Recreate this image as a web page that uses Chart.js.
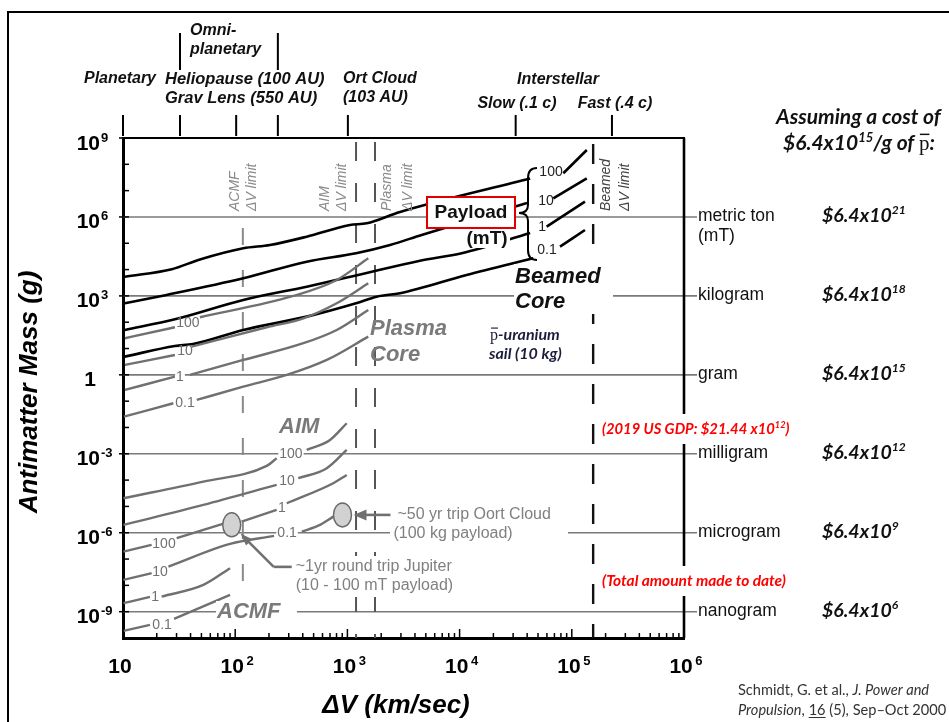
<!DOCTYPE html>
<html>
<head>
<meta charset="utf-8">
<script src="https://cdn.jsdelivr.net/npm/chart.js@4.4.0/dist/chart.umd.min.js"></script>
<style>
  html, body { margin: 0; padding: 0; background: #fff; }
</style>
</head>
<body>
<canvas id="myChart" width="949" height="722"></canvas>
<script>
// ---- data: x = delta-V (km/s), y = antimatter mass (g) ----
const xTickVals = [10, 1e2, 1e3, 1e4, 1e5, 1e6];
const xTickExps = ['', '2', '3', '4', '5', '6'];
const yTickVals = [1e9, 1e6, 1e3, 1, 1e-3, 1e-6, 1e-9];
const yTickExps = ['9', '6', '3', '', '-3', '-6', '-9'];
const massUnits = ['metric ton', 'kilogram', 'gram', 'milligram', 'microgram', 'nanogram'];
const costExps = ['21', '18', '15', '12', '9', '6'];
const payloads = ['100', '10', '1', '0.1'];

// mission classes along the top (km/s)
const missionTicks = [10, 32.2, 102, 240, 1010, 31600, 228000];
// propulsion delta-V limits: ACMF, AIM, plasma, beamed
const limitVals = [117, 1194, 1762, 155000];

// beamed core (black); "b" = part after the payload tag
const beamed100 = [[10.4,5380],[27.2,1.03e4],[48.5,2.42e4],[118,6.46e4],[204,8.61e4],[434,1.78e5],[1054,4.95e5],[1486,5.74e5],[2944,1.55e6],[42500,2.89e7]];
const beamed100b = [[84000,4.56e7],[136000,3.5e8]];
const beamed10 = [[10.4,525],[24.5,1090],[118,4680],[434,2.0e4],[1194,4.17e4],[2399,8.61e4],[4590,2.07e5],[39900,3.4e6]];
const beamed10b = [[68400,5.12e6],[136000,2.94e7]];
const beamed1 = [[10.4,50.8],[29,129],[118,701],[434,2240],[1194,5970],[4436,2.18e4],[10440,4.17e4],[42500,2.46e5]];
const beamed1b = [[59700,4.27e5],[131000,3.8e6]];
const beamed01 = [[10.4,4.92],[29,12.5],[42.1,14.9],[118,50.8],[434,163],[1194,525],[1824,936],[2944,1260],[11560,6240],[45400,2.69e4]];
const beamed01b = [[78500,7.43e4],[131000,3.2e5]];
const beamedTags = [[65300,5.57e7],[58900,4.42e6],[54300,4.54e5],[60100,6.07e4]];

// plasma core (gray)
const plasma100 = [[10.4,24.6],[29,64.4]];
const plasma100b = [[48.5,154],[330,995],[803,4030],[1535,2.69e4]];
const plasma10 = [[10.4,2.38],[29,5.7]];
const plasma10b = [[40.9,11.8],[191,64.4],[405,141],[803,525],[1535,3020]];
const plasma1 = [[10.4,0.267],[29,0.855]];
const plasma1b = [[39.5,0.99],[118,3.68],[405,15.9],[803,50.8],[1535,292]];
const plasma01 = [[10.2,0.0258],[28.1,0.0834]];
const plasma01b = [[45.4,0.111],[118,0.356],[288,0.99],[655,3.68],[1535,28.3]];
const plasmaTags = [[37.9,105],[35.7,8.83],[32.2,0.855],[35.7,0.0935]];

// AIM (gray)
const aim100 = [[10.1,2.05e-5],[52,8.77e-5],[191,3.46e-4],[234,6.79e-4]];
const aim100b = [[434,1.4e-3],[700,3.37e-3],[986,0.0145]];
const aim10 = [[10.1,1.99e-6],[52,1.14e-5],[234,6.56e-5]];
const aim10b = [[365,1.18e-4],[655,2.83e-4],[986,1.4e-3]];
const aim1 = [[114,2.65e-6],[234,7.38e-6]];
const aim1b = [[288,1.32e-5],[748,7.62e-5],[986,1.57e-4]];
const aim01b = [[392,1.1e-6],[570,1.99e-6],[748,4.1e-6]];
const aimTags = [[314,1.05e-3],[290,1.02e-4],[261,9.6e-6],[290,1.01e-6]];

// ACMF (gray)
const acmf100 = [[10.1,1.92e-7],[18,3.45e-7]];
const acmf100b = [[30.1,6.21e-7],[90,2.65e-6]];
const acmf10 = [[10.1,1.61e-8],[18,2.9e-8]];
const acmf10b = [[25.4,5.18e-8],[90,3.77e-7],[222,7.58e-7]];
const acmf1 = [[10.1,2.1e-9],[17.4,3.66e-9]];
const acmf1b = [[22.1,3.75e-9],[52,1.04e-8],[90,4.5e-8]];
const acmf01 = [[10.1,1.87e-10],[17.4,3.15e-10]];
const acmf01b = [[28.5,5.33e-10],[90,4.35e-9]];
const acmfTags = [[23.2,4.11e-7],[21.4,3.34e-8],[19.3,3.99e-9],[22.3,3.44e-10]];

// the two example missions (gray ellipses)
const tripPoints = [[93.1,1.99e-6],[904,4.76e-6]];

// ---- setup ----
const SANS = '"Liberation Sans", Arial, sans-serif';
const CAL = 'Lato, "Open Sans", sans-serif';
const SERIF = '"Liberation Serif", "DejaVu Serif", serif';
const BLACK = '#000';
const GRAY = '#707070';

const datasets = [];
function addCurve(points, color, width) {
  datasets.push({
    data: points.map(p => ({ x: p[0], y: p[1] })),
    borderColor: color,
    borderWidth: width,
    showLine: true,
    pointRadius: 0,
    pointHoverRadius: 0,
    cubicInterpolationMode: 'monotone',
    fill: false
  });
}
[plasma100, plasma100b, plasma10, plasma10b, plasma1, plasma1b, plasma01, plasma01b,
 aim100, aim100b, aim10, aim10b, aim1, aim1b, aim01b,
 acmf100, acmf100b, acmf10, acmf10b, acmf1, acmf1b, acmf01, acmf01b].forEach(c => addCurve(c, GRAY, 2.4));
[beamed100, beamed100b, beamed10, beamed10b, beamed1, beamed1b, beamed01, beamed01b].forEach(c => addCurve(c, BLACK, 2.6));

function line(ctx, x1, y1, x2, y2) {
  ctx.beginPath(); ctx.moveTo(x1, y1); ctx.lineTo(x2, y2); ctx.stroke();
}

// draws a run of text pieces (superscripts, overbars, underlines); y = baseline
function rich(ctx, parts, x, y, size, style, color, family, align) {
  ctx.textAlign = 'left';
  ctx.textBaseline = 'alphabetic';
  const fontOf = p => `${p.style || style} ${p.sup ? size * 0.62 : size}px ${p.family || family}`;
  let total = 0;
  parts.forEach(p => { ctx.font = fontOf(p); total += ctx.measureText(p.t).width; });
  let cx = x;
  if (align === 'center') cx = x - total / 2;
  if (align === 'right') cx = x - total;
  ctx.fillStyle = color;
  parts.forEach(p => {
    ctx.font = fontOf(p);
    const w = ctx.measureText(p.t).width;
    ctx.fillText(p.t, cx, y - (p.sup ? size * 0.4 : 0));
    if (p.bar) ctx.fillRect(cx + 1, y - size * 0.78, w - 1, Math.max(1, size * 0.07));
    if (p.under) ctx.fillRect(cx, y + 2, w, 1);
    cx += w;
  });
  return total;
}

function text(ctx, s, x, y, font, color, align) {
  ctx.font = font; ctx.fillStyle = color;
  ctx.textAlign = align || 'left'; ctx.textBaseline = 'middle';
  ctx.fillText(s, x, y);
}

function arrowHead(ctx, fx, fy, tx, ty, len, wid) {
  const ang = Math.atan2(ty - fy, tx - fx);
  ctx.beginPath();
  ctx.moveTo(tx, ty);
  ctx.lineTo(tx - len * Math.cos(ang) + wid / 2 * Math.sin(ang), ty - len * Math.sin(ang) - wid / 2 * Math.cos(ang));
  ctx.lineTo(tx - len * Math.cos(ang) - wid / 2 * Math.sin(ang), ty - len * Math.sin(ang) + wid / 2 * Math.cos(ang));
  ctx.closePath(); ctx.fill();
}

const extras = {
  id: 'extras',
  beforeDatasetsDraw(chart) {
    const { ctx, chartArea: a } = chart;
    const X = v => chart.scales.x.getPixelForValue(v);
    const Y = v => chart.scales.y.getPixelForValue(v);
    ctx.save();
    // mass lines, running out to the unit names
    ctx.strokeStyle = '#7a7a7a'; ctx.lineWidth = 1.6;
    yTickVals.slice(1).forEach(v => line(ctx, a.left, Y(v), a.right + 13, Y(v)));
    // dashed delta-V limits
    const styles = [
      { start: 90, color: '#8a8a8a', width: 2, dash: [17, 25] },
      { start: 4, color: '#555', width: 2, dash: [19, 22] },
      { start: 4, color: '#555', width: 2, dash: [19, 22] },
      { start: 6, color: '#111', width: 2.4, dash: [20, 20] }
    ];
    limitVals.forEach((v, i) => {
      const st = styles[i];
      ctx.strokeStyle = st.color; ctx.lineWidth = st.width; ctx.setLineDash(st.dash);
      line(ctx, X(v), a.top + st.start, X(v), a.bottom);
    });
    ctx.setLineDash([]);
    ctx.restore();
  },
  afterDatasetsDraw(chart) {
    const { ctx, chartArea: a } = chart;
    const X = v => chart.scales.x.getPixelForValue(v);
    const Y = v => chart.scales.y.getPixelForValue(v);
    ctx.save();
    // gaps that the text blocks cut into the lines
    ctx.fillStyle = '#fff';
    ctx.fillRect(514, 264, 99, 50);   // Beamed Core
    ctx.fillRect(390, 504, 178, 42);  // Oort cloud note
    ctx.fillRect(293, 556, 166, 41);  // Jupiter note
    ctx.fillRect(216, 601, 81, 22);   // ACMF

    // curve tags
    const tagFont = `14px ${SANS}`;
    const gridPx = yTickVals.map(Y);
    [[plasmaTags, GRAY], [aimTags, GRAY], [acmfTags, GRAY], [beamedTags, '#222']].forEach(([tags, col]) => {
      tags.forEach((t, i) => {
        const x = X(t[0]), y = Y(t[1]);
        ctx.font = tagFont;
        const w = ctx.measureText(payloads[i]).width;
        if (gridPx.some(g => Math.abs(g - y) < 5)) {
          ctx.fillStyle = '#fff'; ctx.fillRect(x - w / 2 - 1, y - 6, w + 2, 12);
        }
        text(ctx, payloads[i], x, y + 1, tagFont, col, 'center');
      });
    });

    // example missions
    ctx.lineWidth = 2.6; ctx.strokeStyle = GRAY; ctx.fillStyle = GRAY;
    const e1 = tripPoints.map(p => [X(p[0]), Y(p[1])]);
    line(ctx, e1[0][0] + 42, e1[0][1] + 42, e1[0][0] + 60, e1[0][1] + 42);
    line(ctx, e1[0][0] + 42, e1[0][1] + 42, e1[0][0] + 11, e1[0][1] + 11);
    arrowHead(ctx, e1[0][0] + 30, e1[0][1] + 30, e1[0][0] + 9, e1[0][1] + 9, 12, 9);
    line(ctx, e1[1][0] + 48, e1[1][1], e1[1][0] + 20, e1[1][1]);
    arrowHead(ctx, e1[1][0] + 40, e1[1][1], e1[1][0] + 11, e1[1][1], 13, 11);
    e1.forEach(([cx, cy]) => {
      ctx.beginPath(); ctx.ellipse(cx, cy, 9, 12, 0, 0, Math.PI * 2);
      ctx.fillStyle = '#d2d2d2'; ctx.fill();
      ctx.lineWidth = 1.5; ctx.strokeStyle = '#6a6a6a'; ctx.stroke();
    });
    const noteFont = `16px ${SANS}`;
    text(ctx, '~50 yr trip Oort Cloud', e1[1][0] + 55, e1[1][1], noteFont, '#808080');
    text(ctx, '(100 kg payload)', e1[1][0] + 51, e1[1][1] + 19, noteFont, '#808080');
    text(ctx, '~1yr round trip Jupiter', e1[0][0] + 64, e1[0][1] + 42, noteFont, '#808080');
    text(ctx, '(10 - 100 mT payload)', e1[0][0] + 64, e1[0][1] + 61, noteFont, '#808080');

    // family names
    const famFont = `italic bold 22px ${SANS}`;
    text(ctx, 'Beamed', 515, 277, famFont, '#111');
    text(ctx, 'Core', 515, 302, famFont, '#111');
    text(ctx, 'Plasma', 370, 329, famFont, '#7a7a7a');
    text(ctx, 'Core', 370, 355, famFont, '#7a7a7a');
    text(ctx, 'AIM', 279, 427, famFont, '#7a7a7a');
    text(ctx, 'ACMF', 217, 612, famFont, '#7a7a7a');

    // payload box and brace
    ctx.fillStyle = '#fff'; ctx.fillRect(427, 197, 88, 31);
    ctx.strokeStyle = '#e00000'; ctx.lineWidth = 2; ctx.strokeRect(427, 197, 88, 31);
    text(ctx, 'Payload', 471, 213, `bold 19px ${SANS}`, '#111', 'center');
    ctx.fillStyle = '#fff'; ctx.fillRect(464, 229, 46, 19);
    text(ctx, '(mT)', 487, 239, `bold 19px ${SANS}`, '#111', 'center');
    ctx.strokeStyle = '#000'; ctx.lineWidth = 2;
    ctx.beginPath();
    ctx.moveTo(537, 168); ctx.quadraticCurveTo(528, 168, 528, 178);
    ctx.lineTo(528, 205); ctx.quadraticCurveTo(528, 213, 519, 213);
    ctx.quadraticCurveTo(528, 213, 528, 221);
    ctx.lineTo(528, 250); ctx.quadraticCurveTo(528, 260, 537, 260);
    ctx.stroke();

    // antiproton sail note
    const sailCol = '#1c1c3c';
    rich(ctx, [{ t: 'p', bar: true, style: 'normal', family: SERIF }, { t: '-uranium' }], 490, 340, 16, 'italic bold', sailCol, CAL);
    rich(ctx, [{ t: 'sail (10 kg)' }], 489, 359, 16, 'italic bold', sailCol, CAL);

    // limit captions, rotated
    const capFont = `italic 14px ${SANS}`;
    const caps = [
      [['ACMF', 235], ['\u0394V limit', 252], '#8a8a8a'],
      [['AIM', 325], ['\u0394V limit', 342], '#8a8a8a'],
      [['Plasma', 387], ['\u0394V limit', 408], '#8a8a8a'],
      [['Beamed', 606], ['\u0394V limit', 625], '#444']
    ];
    caps.forEach(c => {
      [c[0], c[1]].forEach(([s, x]) => {
        ctx.save(); ctx.translate(x, 211); ctx.rotate(-Math.PI / 2);
        text(ctx, s, 0, 0, capFont, c[2], 'left'); ctx.restore();
      });
    });
    ctx.restore();
  },
  afterDraw(chart) {
    const { ctx, chartArea: a } = chart;
    const X = v => chart.scales.x.getPixelForValue(v);
    const Y = v => chart.scales.y.getPixelForValue(v);
    ctx.save();
    // frame top and right
    ctx.strokeStyle = '#000';
    ctx.lineWidth = 2.2; line(ctx, a.left, a.top, a.right + 1, a.top);
    ctx.lineWidth = 2.6; line(ctx, a.right, a.top, a.right, a.bottom);
    // tick marks
    ctx.lineWidth = 1.5;
    for (let d = 1; d < 6; d++) {
      for (let m = 1; m < 10; m++) {
        const x = X(m * Math.pow(10, d));
        line(ctx, x, a.bottom, x, a.bottom - (m === 1 ? 9 : 5));
      }
    }
    for (let e = -10; e <= 9; e++) {
      const y = Y(Math.pow(10, e));
      const major = e % 3 === 0;
      line(ctx, a.left - (major ? 4 : 0), y, a.left + 6, y);
    }

    // red notes (they cut through the right frame)
    const redFont = 15.5;
    ctx.fillStyle = '#fff'; ctx.fillRect(599, 414, 200, 30); ctx.fillRect(599, 566, 202, 30);
    rich(ctx, [{ t: '(2019 US GDP: $21.44 x10' }, { t: '12', sup: true }, { t: ')' }], 602, 434, 14.8, 'italic bold', '#ff0000', CAL);
    rich(ctx, [{ t: '(Total amount made to date)' }], 602, 586, redFont, 'italic bold', '#ff0000', CAL);

    // tick labels
    yTickVals.forEach((v, i) => {
      const y = Y(v);
      if (yTickExps[i] === '') {
        rich(ctx, [{ t: '1' }], 96, y + 11, 21, 'bold', '#000', SANS, 'right');
      } else {
        rich(ctx, [{ t: '10' }], 100, y + 11.5, 21, 'bold', '#000', SANS, 'right');
        rich(ctx, [{ t: yTickExps[i] }], 101, y + 3.5, 13, 'bold', '#000', SANS, 'left');
      }
    });
    xTickVals.forEach((v, i) => {
      const x = X(v);
      const parts = [{ t: '10' }];
      if (xTickExps[i]) parts.push({ t: '\u2009' + xTickExps[i], sup: true });
      rich(ctx, parts, i === 0 ? x - 3 : x + 2, 673, 21, 'bold', '#000', SANS, 'center');
    });

    // axis titles
    text(ctx, '\u0394V (km/sec)', 396, 706, `italic bold 26px ${SANS}`, '#000', 'center');
    ctx.save(); ctx.translate(30, 392); ctx.rotate(-Math.PI / 2);
    text(ctx, 'Antimatter Mass (g)', 0, 0, `italic bold 26px ${SANS}`, '#000', 'center');
    ctx.restore();

    // mission classes along the top
    ctx.strokeStyle = '#000'; ctx.lineWidth = 2;
    missionTicks.forEach(v => line(ctx, X(v), 115, X(v), 136));
    line(ctx, X(missionTicks[1]), 33, X(missionTicks[1]), 70);
    line(ctx, X(missionTicks[3]), 33, X(missionTicks[3]), 70);
    const topFont = `italic bold 16px ${SANS}`;
    text(ctx, 'Omni-', 190, 31, topFont, '#111');
    text(ctx, 'planetary', 190, 50, topFont, '#111');
    text(ctx, 'Planetary', 156, 79, topFont, '#111', 'right');
    text(ctx, 'Heliopause (100 AU)', 165, 79, `italic bold 16.5px ${SANS}`, '#111');
    text(ctx, 'Grav Lens (550 AU)', 165, 98, `italic bold 16.5px ${SANS}`, '#111');
    text(ctx, 'Ort Cloud', 343, 79, topFont, '#111');
    text(ctx, '(103 AU)', 343, 98, topFont, '#111');
    text(ctx, 'Interstellar', 558, 80, topFont, '#111', 'center');
    text(ctx, 'Slow (.1 c)', 517, 104, topFont, '#111', 'center');
    text(ctx, 'Fast (.4 c)', 615, 104, topFont, '#111', 'center');

    // unit names and costs on the right
    const unitFont = `17.5px ${SANS}`;
    massUnits.forEach((u, i) => {
      const y = Y(yTickVals[i + 1]);
      text(ctx, u, 698, y - 1, unitFont, '#111');
      rich(ctx, [{ t: '$6.4x10' }, { t: costExps[i], sup: true }], 822, y + 5, 19.5, 'italic bold', '#111', CAL);
    });
    text(ctx, '(mT)', 698, Y(yTickVals[1]) + 19, unitFont, '#111');
    rich(ctx, [{ t: 'Assuming a cost of' }], 776, 124, 21, 'italic bold', '#111', CAL);
    rich(ctx, [{ t: '$6.4x10' }, { t: '15', sup: true }, { t: '/g of ' }, { t: 'p', bar: true, style: 'normal', family: SERIF }, { t: ':' }], 783, 150, 21, 'italic bold', '#111', CAL);

    // citation
    rich(ctx, [{ t: 'Schmidt, G. et al., ', style: 'normal' }, { t: 'J. Power and' }], 738, 695, 14.6, 'italic', '#333', CAL);
    rich(ctx, [{ t: 'Propulsion' }, { t: ', ', style: 'normal' }, { t: '16', style: 'normal', under: true }, { t: ' (5), Sep\u2013Oct 2000', style: 'normal' }], 738, 715, 14.6, 'italic', '#333', CAL);

    // page border
    ctx.strokeStyle = '#000'; ctx.lineWidth = 2;
    ctx.beginPath(); ctx.moveTo(8, 722); ctx.lineTo(8, 12); ctx.lineTo(949, 12); ctx.stroke();
    ctx.restore();
  }
};

// config
const config = {
  type: 'scatter',
  data: { datasets },
  options: {
    responsive: false,
    animation: false,
    events: [],
    layout: { padding: { left: 123, top: 138, right: 265, bottom: 84 } },
    plugins: { legend: { display: false }, tooltip: { enabled: false } },
    scales: {
      x: {
        type: 'logarithmic', min: 10, max: 1e6,
        ticks: { display: false },
        grid: { display: false, drawTicks: false },
        border: { display: true, color: '#000', width: 3 },
        afterFit: s => { s.height = 0; }
      },
      y: {
        type: 'logarithmic', min: 1e-10, max: 1e9,
        ticks: { display: false },
        grid: { display: false, drawTicks: false },
        border: { display: true, color: '#000', width: 3 },
        afterFit: s => { s.width = 0; }
      }
    }
  },
  plugins: [extras]
};

const myChart = new Chart(document.getElementById('myChart'), config);
</script>
</body>
</html>
